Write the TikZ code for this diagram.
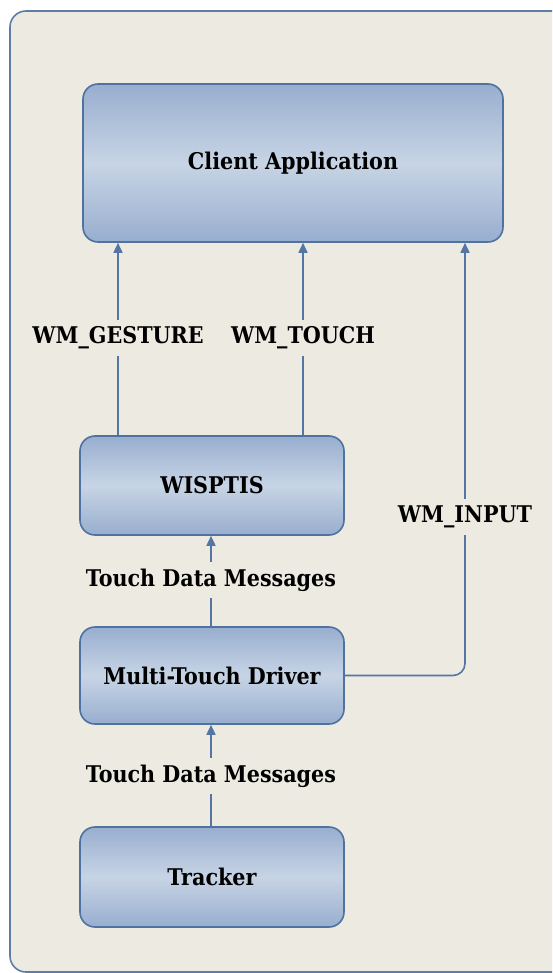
\documentclass[tikz,border=0pt]{standalone}
\usepackage{fontspec}
\setmainfont{DejaVu Serif Condensed}
\usetikzlibrary{arrows.meta,calc}

\definecolor{paper}{RGB}{237,235,225}
\definecolor{frameblue}{RGB}{92,125,168}
\definecolor{boxedge}{RGB}{80,114,160}
\definecolor{boxdark}{RGB}{152,174,207}
\definecolor{boxlight}{RGB}{199,212,229}
\definecolor{linkblue}{RGB}{84,118,164}

\tikzset{
  block/.style={draw=boxedge, line width=1.6pt, rounded corners=15pt,
    top color=boxdark, bottom color=boxdark, middle color=boxlight,
    inner sep=0pt, font=\fontsize{23}{27}\selectfont\bfseries},
  link/.style={draw=linkblue, line width=1.6pt,
    -{Triangle[length=10pt,width=9pt]}},
  tag/.style={fill=paper, inner xsep=2pt, inner ysep=7pt,
    font=\fontsize{23}{27}\selectfont\bfseries}
}

\begin{document}
\begin{tikzpicture}[x=1pt,y=-1pt]
  \useasboundingbox (0,0) rectangle (552,973);
  % backdrop panel, running past the right and bottom edges
  \begin{scope}
    \clip (0,0) rectangle (552,973);
    \draw[frameblue, line width=1.6pt, fill=paper, rounded corners=16pt]
      (10,11) rectangle (600,972);
  \end{scope}

  % components
  \node[block, minimum width=420pt, minimum height=158pt] (cl) at (293,163) {Client Application};
  \node[block, minimum width=264pt, minimum height=99pt] (wis) at (212,485.5) {WISPTIS};
  \node[block, minimum width=264pt, minimum height=97pt] (drv) at (212,675.5) {Multi-Touch Driver};
  \node[block, minimum width=264pt, minimum height=100pt] (trk) at (212,877) {Tracker};

  % message label anchors
  \coordinate (gx) at (118,338);
  \coordinate (tx) at (303,338);
  \coordinate (ix) at (465,517);
  \coordinate (d1) at (211,580);
  \coordinate (d2) at (211,776);

  % connectors
  \draw[link] (wis.north -| gx) -- (cl.south -| gx);
  \draw[link] (wis.north -| tx) -- (cl.south -| tx);
  \draw[link, rounded corners=12pt] (drv.east) -| (cl.south -| ix);
  \draw[link] (drv.north -| d1) -- (wis.south -| d1);
  \draw[link] (trk.north -| d2) -- (drv.south -| d2);

  % labels over the connectors
  \node[tag] (lg) at (gx) {WM\_GESTURE};
  \node[tag] (lt) at (tx) {WM\_TOUCH};
  \node[tag] (li) at (ix) {WM\_INPUT};
  \node[tag] (l1) at (d1) {Touch Data Messages};
  \node[tag] (l2) at (d2) {Touch Data Messages};
\end{tikzpicture}
\end{document}
